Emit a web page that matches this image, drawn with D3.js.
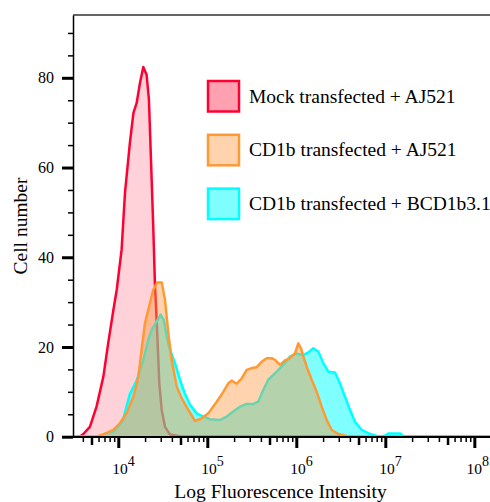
<!DOCTYPE html>
<html>
<head>
<meta charset="utf-8">
<script src="https://cdn.jsdelivr.net/npm/d3@7"></script>
<style>
  body { margin: 0; background: #fff; }
  text { font-family: "Liberation Serif", "DejaVu Serif", serif; fill: #000; }
</style>
</head>
<body>
<div id="chart"></div>
<script>
// intensity (linear units) and cell counts
let mockX = [3100, 3700, 4050, 4800, 5700, 6800, 7700, 8800, 9600, 10900, 11900, 13500, 14800, 16100, 17500, 19100,
  20800, 22100, 23300, 24700, 25800, 27400, 28900, 30800, 33500, 38100, 49300, 150000000];
let mockY = [0, 0, 0.6, 2.2, 6.7, 13.4, 20.8, 28.2, 32.7, 41.7, 54.4, 65.5, 72.2, 74.4, 78.8, 82.4,
  80.7, 75.1, 61.8, 46.9, 34.2, 23.1, 11.9, 5.9, 2.2, 0.5, 0.1, 0];

let cd1bX = [3100, 5900, 6800, 8800, 10400, 12400, 14800, 16800, 18300, 19950, 22700, 24700, 27400, 30800, 33500, 36500,
  39800, 45300, 51500, 61200, 72800, 86500, 102600, 127600, 151400, 172200, 187900, 213800, 243800, 277300,
  315500, 358900, 408300, 464500, 529700, 576800, 656100, 746400, 851100, 968300, 1052000, 1130000, 1200000,
  1309000, 1489000, 1694000, 1928000, 2198000, 2500000, 2965000, 3681000, 150000000];
let cd1bY = [0, 0.1, 0.5, 1.5, 3.0, 5.2, 8.9, 13.4, 19.4, 25.3, 29.8, 32.7, 34.4, 34.4, 30.5, 23.1,
  17.1, 11.2, 8.6, 6.0, 3.5, 4.1, 5.2, 7.8, 10.0, 11.9, 12.5, 11.8, 13.0, 14.9,
  15.3, 15.5, 16.7, 17.5, 17.5, 17.1, 16.0, 17.0, 17.5, 18.6, 20.8, 19.7, 17.9,
  15.6, 12.7, 10.0, 6.7, 3.7, 1.5, 0.6, 0.15, 0];

let bcdX = [3100, 6000, 7400, 8800, 11200, 13500, 16100, 19100, 21700, 23700, 27000, 29900, 32600, 35000, 38100, 43400,
  49300, 55800, 64000, 76000, 90200, 107200, 139000, 165200, 195900, 232800, 277300, 328900, 374100, 425600,
  484200, 602600, 714500, 849200, 1009000, 1200000, 1365000, 1552000, 1766000, 2009000, 2291000, 2723000,
  3097000, 3524000, 4009000, 4571000, 5433000, 6730000, 8000000, 9420000, 10800000, 14660000, 16200000, 150000000];
let bcdY = [0, 0, 0.8, 1.1, 3.5, 9.5, 12.5, 17.1, 21.6, 23.8, 25.7, 27.2, 26.0, 22.3, 19.4, 16.4,
  12.7, 9.7, 7.1, 5.2, 4.5, 3.9, 3.7, 4.5, 5.6, 6.7, 7.3, 7.3, 7.8, 10.4,
  12.7, 14.5, 16.0, 17.9, 18.5, 18.2, 18.8, 19.7, 19.0, 16.4, 14.5, 14.3,
  11.9, 8.9, 6.0, 3.3, 1.5, 0.6, 0.15, 0, 0.7, 0.7, 0, 0];

let seriesNames = ["Mock transfected + AJ521", "CD1b transfected + AJ521", "CD1b transfected + BCD1b3.1"];
let yMajor = [0, 20, 40, 60, 80];
let yMinor = [5, 10, 15, 25, 30, 35, 45, 50, 55, 65, 70, 75, 85, 90];
let xExponents = [4, 5, 6, 7, 8];

let W = 490, H = 502;
let margin = {top: 15, left: 73, bottom: 65};

let svg = d3.select("#chart").append("svg")
  .attr("width", W)
  .attr("height", H);

let x = d3.scaleLog().domain([3100, 1.5e8]).range([margin.left, W]);
let y = d3.scaleLinear().domain([0, 94]).range([436.7, margin.top]);

// minor log ticks 2..9 per decade
let xMinor = [], xMid = [];
for (let e = 3; e <= 8; e++) {
  for (let k = 2; k <= 9; k++) {
    let v = k * Math.pow(10, e);
    if (v < 3100 || v > 1.5e8) continue;
    if (k == 5) xMid.push(v); else xMinor.push(v);
  }
}

let defs = svg.append("defs");
defs.append("clipPath").attr("id", "plotclip")
  .append("rect").attr("x", margin.left).attr("y", margin.top)
  .attr("width", W - margin.left).attr("height", 436.7 - margin.top);

let area = d3.area()
  .x(d => x(d[0]))
  .y0(y(0))
  .y1(d => y(d[1]));
let line = d3.line()
  .x(d => x(d[0]))
  .y(d => y(d[1]));

let layers = [
  {xs: mockX, ys: mockY, fill: "rgba(255,0,40,0.18)", stroke: "#ff0033"},
  {xs: bcdX, ys: bcdY, fill: "rgba(0,255,255,0.5)", stroke: "#00ffff"},
  {xs: cd1bX, ys: cd1bY, fill: "rgba(255,150,60,0.42)", stroke: "#ff9933"}
];

let plot = svg.append("g").attr("clip-path", "url(#plotclip)");
layers.forEach(function(l) {
  let data = l.xs.map((v, i) => [v, l.ys[i]]);
  plot.append("path").datum(data)
    .attr("d", area)
    .style("fill", l.fill)
    .style("stroke", "none");
  plot.append("path").datum(data)
    .attr("d", line)
    .style("fill", "none")
    .style("stroke", l.stroke)
    .style("stroke-width", 2.5)
    .style("stroke-linejoin", "round");
});

// frame top line
svg.append("line")
  .attr("x1", margin.left).attr("x2", W)
  .attr("y1", margin.top).attr("y2", margin.top)
  .style("stroke", "#333").style("stroke-width", 1.5);

// y axis
let yAxisMajor = d3.axisLeft(y).tickValues(yMajor).tickSize(11).tickSizeOuter(0).tickPadding(8);
let gy = svg.append("g")
  .attr("transform", "translate(" + margin.left + ",0)")
  .call(yAxisMajor);
gy.select(".domain").style("stroke", "#000").style("stroke-width", 1.5);
gy.selectAll(".tick line").style("stroke", "#000").style("stroke-width", 3);
gy.selectAll(".tick text")
  .style("font-family", "Liberation Serif")
  .style("font-size", "16px");

let gyMinor = svg.append("g")
  .attr("transform", "translate(" + margin.left + ",0)")
  .call(d3.axisLeft(y).tickValues(yMinor).tickSize(5).tickSizeOuter(0).tickFormat(""));
gyMinor.select(".domain").remove();
gyMinor.selectAll(".tick line").style("stroke", "#000").style("stroke-width", 1.5);

// x axis
let gx = svg.append("g")
  .attr("transform", "translate(0," + 437 + ")")
  .call(d3.axisBottom(x).tickValues(xExponents.map(e => Math.pow(10, e))).tickSize(11).tickSizeOuter(0).tickFormat(""));
gx.select(".domain").remove();
gx.selectAll(".tick line").style("stroke", "#000").style("stroke-width", 3);

let gxMinor = svg.append("g")
  .attr("transform", "translate(0," + 437 + ")")
  .call(d3.axisBottom(x).tickValues(xMinor).tickSize(5).tickSizeOuter(0).tickFormat(""));
gxMinor.select(".domain").remove();
gxMinor.selectAll(".tick line").style("stroke", "#000").style("stroke-width", 1.5);

let gxMid = svg.append("g")
  .attr("transform", "translate(0," + 437 + ")")
  .call(d3.axisBottom(x).tickValues(xMid).tickSize(8).tickSizeOuter(0).tickFormat(""));
gxMid.select(".domain").remove();
gxMid.selectAll(".tick line").style("stroke", "#000").style("stroke-width", 2.5);

svg.append("line")
  .attr("x1", 62).attr("x2", W)
  .attr("y1", 437).attr("y2", 437)
  .style("stroke", "#000").style("stroke-width", 2);

// x tick labels 10^n
let xl = svg.append("g").selectAll("text")
  .data(xExponents)
  .enter().append("text")
  .attr("x", d => x(Math.pow(10, d)) - 6)
  .attr("y", 474)
  .style("font-size", "15.5px");
xl.append("tspan").text("10");
xl.append("tspan")
  .attr("dy", -8)
  .style("font-size", "14px")
  .text(d => d);
// keep the last label inside the picture
xl.each(function() {
  let b = this.getBBox();
  if (b.x + b.width > W - 1) {
    d3.select(this).attr("x", +d3.select(this).attr("x") - (b.x + b.width - (W - 1)));
  }
});

// axis titles
svg.append("text")
  .attr("x", (margin.left + W) / 2 - 1)
  .attr("y", 498)
  .attr("text-anchor", "middle")
  .style("font-size", "19.5px")
  .text("Log Fluorescence Intensity");

svg.append("text")
  .attr("transform", "translate(26.5," + ((margin.top + 437) / 2) + ") rotate(-90)")
  .attr("text-anchor", "middle")
  .style("font-size", "19.5px")
  .text("Cell number");

// legend
let legendFill = ["rgba(255,0,40,0.37)", "rgba(255,150,60,0.42)", "rgba(0,255,255,0.5)"];
let legendStroke = ["#ff0033", "#ff9933", "#00ffff"];
let lg = svg.append("g").selectAll("g")
  .data(seriesNames)
  .enter().append("g")
  .attr("transform", (d, i) => "translate(208," + (81 + i * 53.8) + ")");
lg.append("rect")
  .attr("width", 31).attr("height", 30.5)
  .style("fill", (d, i) => legendFill[i])
  .style("stroke", (d, i) => legendStroke[i])
  .style("stroke-width", 2.5);
lg.append("text")
  .attr("x", 41)
  .attr("y", 21.5)
  .style("font-size", "19.5px")
  .text(d => d);
</script>
</body>
</html>
